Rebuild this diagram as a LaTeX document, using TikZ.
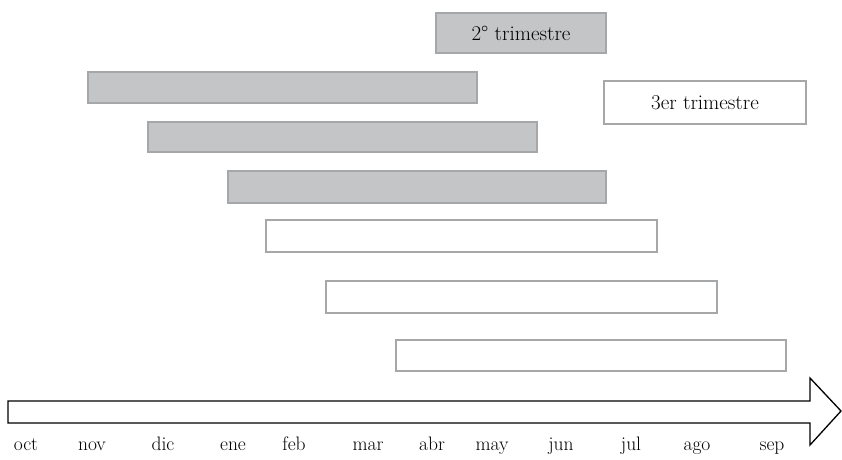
\documentclass[tikz,border=0pt]{standalone}
\usepackage{fontspec}
\definecolor{barfill}{HTML}{C4C5C7}
\definecolor{barline}{HTML}{A6A7A9}
\begin{document}
\begin{tikzpicture}[x=1pt,y=-1pt,
  bar/.style={draw=barline,line width=1.4pt,inner sep=0pt,outer sep=0pt},
  grayb/.style={bar,fill=barfill},
  whiteb/.style={bar,fill=white},
  lbl/.style={font=\fontsize{21}{24}\selectfont,text=black},
  mon/.style={font=\fontsize{19.5}{22}\selectfont,text=black,anchor=base}]
\useasboundingbox (0,0) rectangle (842,459);
% boxes
\node[grayb,minimum width=170pt,minimum height=40pt,anchor=north west,lbl] (t2) at (436,13) {2\textdegree{} trimestre};
\node[whiteb,minimum width=202pt,minimum height=43pt,anchor=north west,lbl] (t3) at (604,81) {3er trimestre};
\node[grayb,minimum width=389pt,minimum height=31pt,anchor=north west] (g1) at (88,72) {};
\node[grayb,minimum width=389pt,minimum height=30pt,anchor=north west] (g2) at (148,122) {};
\node[grayb,minimum width=378pt,minimum height=32pt,anchor=north west] (g3) at (228,171) {};
\node[whiteb,minimum width=391pt,minimum height=32pt,anchor=north west] (w1) at (266,220) {};
\node[whiteb,minimum width=391pt,minimum height=32pt,anchor=north west] (w2) at (326,281) {};
\node[whiteb,minimum width=390pt,minimum height=31pt,anchor=north west] (w3) at (396,340) {};
% timeline arrow
\coordinate (a0) at (8,401);
\coordinate (tip) at (841,411);
\draw[line width=1.3pt,fill=white,line join=miter]
  (a0) -- (810,401) -- (810,378) -- (tip) -- (810,445) -- (810,423) -- (8,423) -- cycle;
% months
\foreach \m/\x in {oct/26,nov/92,dic/163,ene/233,feb/294,mar/368,abr/432,may/492,jun/561,jul/631,ago/697,sep/772}
  \node[mon] (m-\m) at (\x,450) {\m};
\end{tikzpicture}
\end{document}
